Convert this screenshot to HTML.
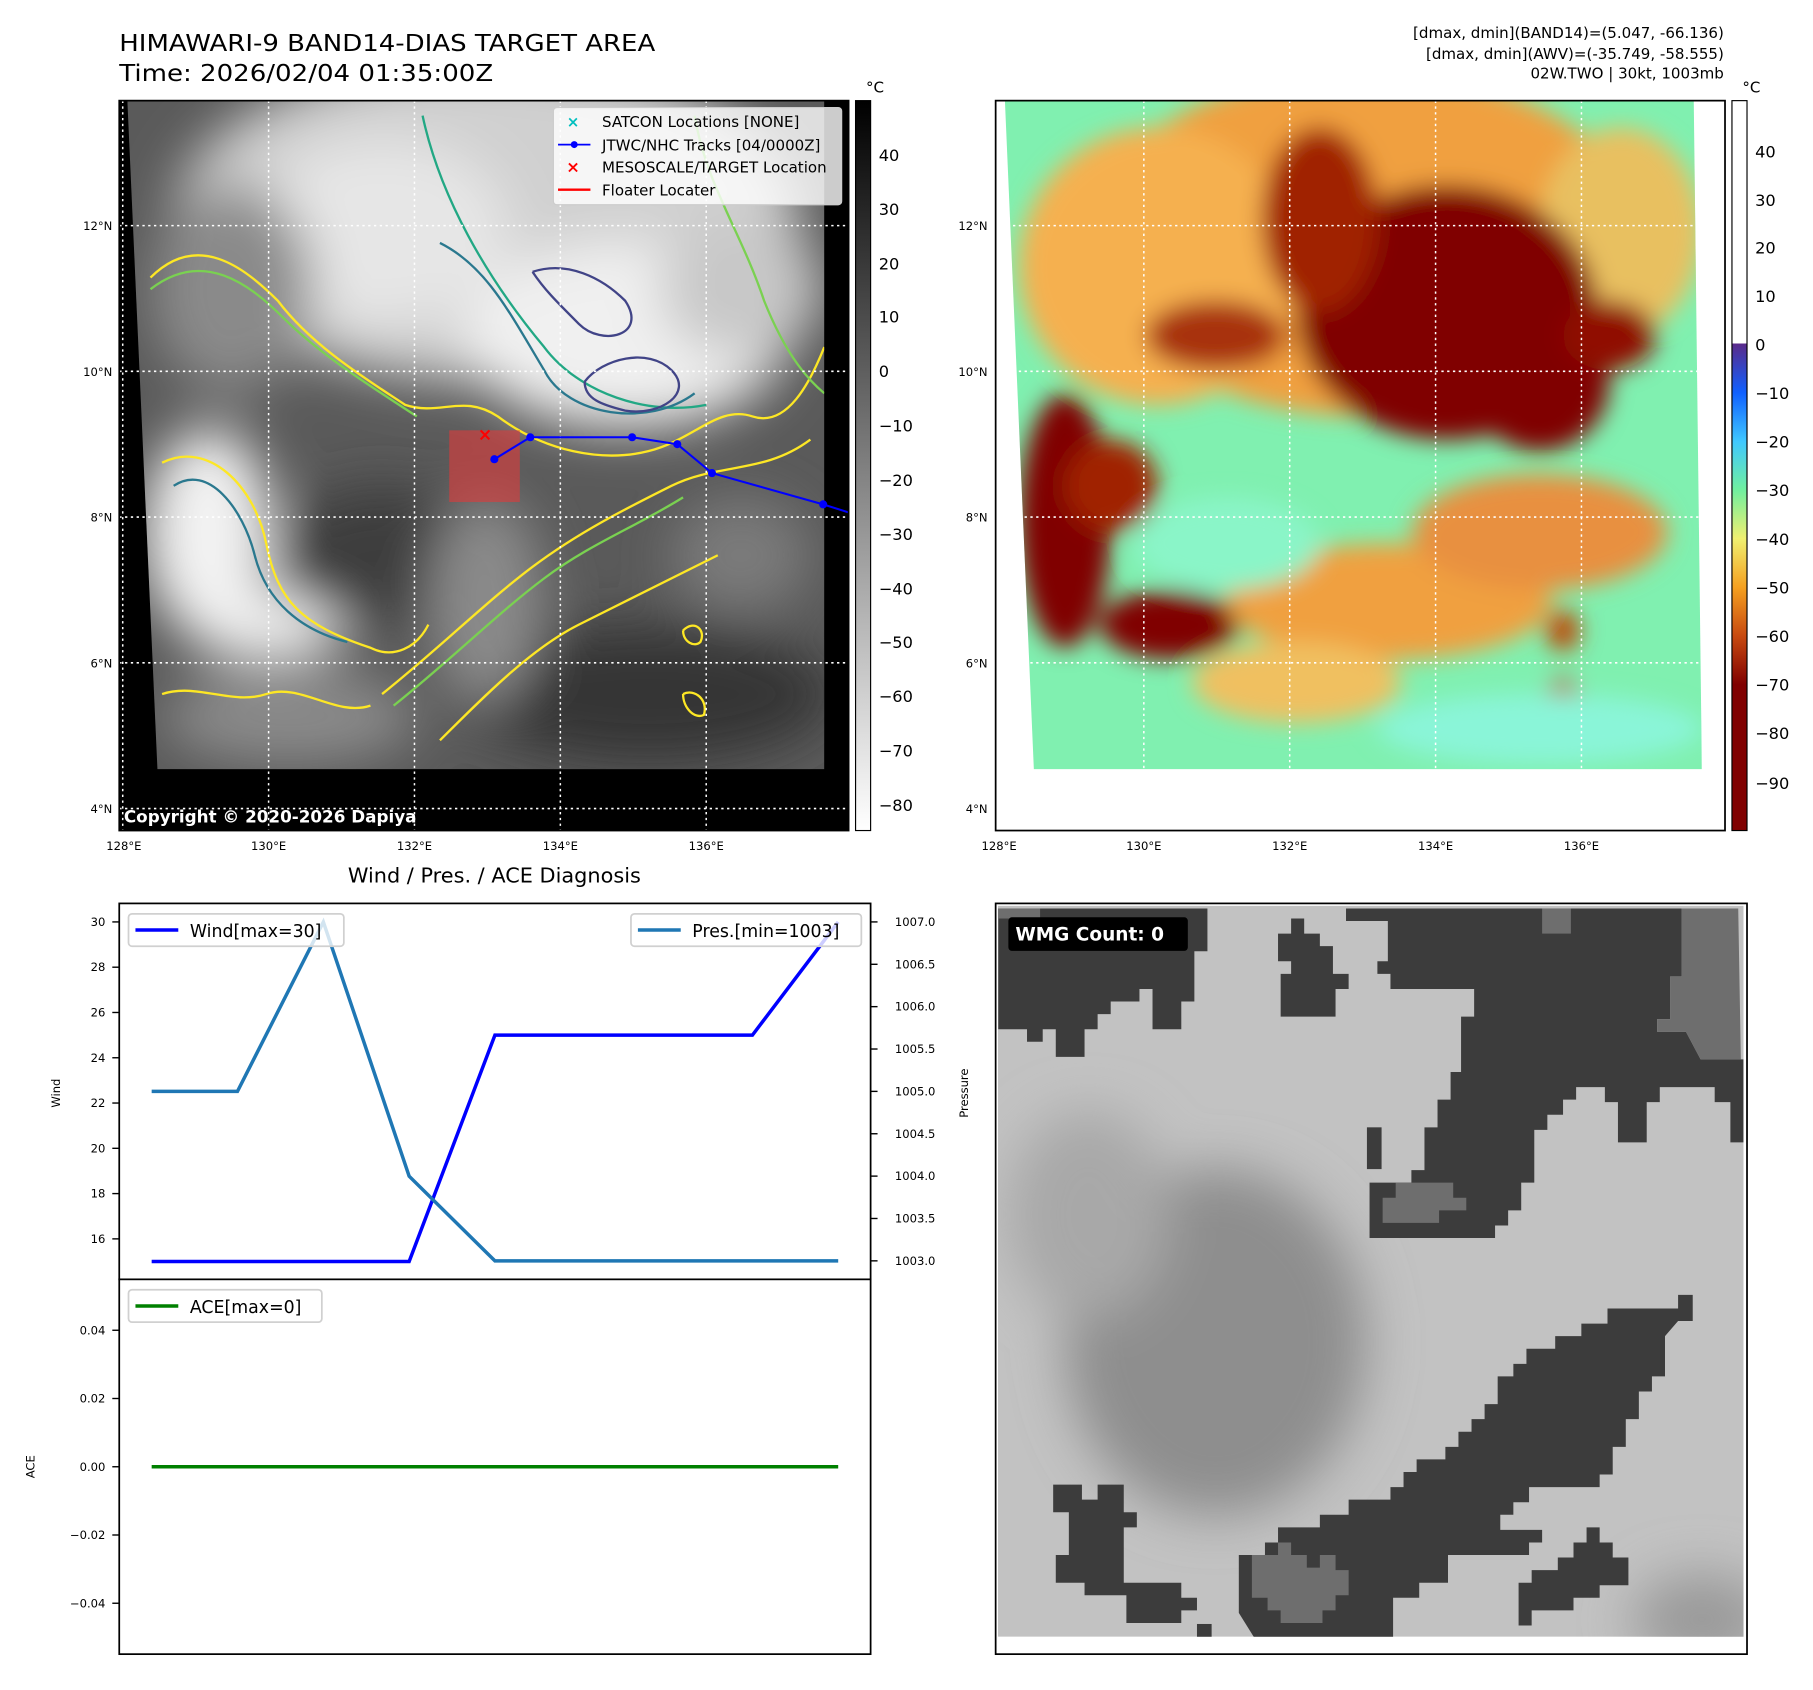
<!DOCTYPE html>
<html><head><meta charset="utf-8"><title>HIMAWARI-9 BAND14 DIAS</title>
<style>html,body{margin:0;padding:0;background:#fff}svg{display:block}text{font-family:"DejaVu Sans","Liberation Sans",sans-serif}</style>
</head><body>
<svg id="fig" width="1813" height="1690" viewBox="0 0 1566 1461" preserveAspectRatio="none" xmlns="http://www.w3.org/2000/svg">
<defs>
<filter id="b12" x="-50%" y="-50%" width="200%" height="200%"><feGaussianBlur stdDeviation="10"/></filter>
<filter id="b25" x="-50%" y="-50%" width="200%" height="200%"><feGaussianBlur stdDeviation="22"/></filter>
<linearGradient id="gcb" x1="0" y1="0" x2="0" y2="1"><stop offset="0" stop-color="#000"/><stop offset="1" stop-color="#fff"/></linearGradient>
<linearGradient id="ccb" x1="0" y1="0" x2="0" y2="1">
<stop offset="0" stop-color="#fff"/><stop offset="0.333" stop-color="#fff"/><stop offset="0.333" stop-color="#5a2a8a"/>
<stop offset="0.4" stop-color="#1060ff"/><stop offset="0.467" stop-color="#40c8ff"/><stop offset="0.533" stop-color="#70f0a0"/>
<stop offset="0.6" stop-color="#f0f070"/><stop offset="0.667" stop-color="#f5a020"/><stop offset="0.733" stop-color="#c84a10"/>
<stop offset="0.8" stop-color="#800000"/><stop offset="1" stop-color="#800000"/></linearGradient>
<clipPath id="clipL"><polygon points="110,87 712,87 712,665 136,665"/></clipPath>
<clipPath id="clipR"><polygon points="868,87 1463,87 1470,665 893,665"/></clipPath>
<clipPath id="clipW"><rect x="862" y="783" width="644" height="632"/></clipPath>
</defs>

<text x="103" y="44" font-size="20" textLength="463" lengthAdjust="spacingAndGlyphs">HIMAWARI-9 BAND14-DIAS TARGET AREA</text>
<text x="103" y="70" font-size="20" textLength="323" lengthAdjust="spacingAndGlyphs">Time: 2026/02/04 01:35:00Z</text>
<g font-size="13" text-anchor="end">
<text x="1489" y="33">[dmax, dmin](BAND14)=(5.047, -66.136)</text>
<text x="1489" y="51">[dmax, dmin](AWV)=(-35.749, -58.555)</text>
<text x="1489" y="68">02W.TWO | 30kt, 1003mb</text>
</g>

<g>
<rect x="103" y="87" width="630" height="631" fill="#000"/>
<g clip-path="url(#clipL)">
<rect x="100" y="80" width="620" height="600" fill="#5a5a5a"/>
<g filter="url(#b25)">
<ellipse cx="420" cy="190" rx="270" ry="140" fill="#d0d0d0"/>
<ellipse cx="540" cy="290" rx="140" ry="80" fill="#f0f0f0"/>
<ellipse cx="330" cy="200" rx="110" ry="80" fill="#e6e6e6"/>
<ellipse cx="180" cy="460" rx="55" ry="90" fill="#f2f2f2"/>
<ellipse cx="230" cy="540" rx="70" ry="30" fill="#f2f2f2"/>
<ellipse cx="640" cy="250" rx="70" ry="60" fill="#c8c8c8"/>
<ellipse cx="200" cy="250" rx="70" ry="90" fill="#8a8a8a"/>
<ellipse cx="330" cy="480" rx="90" ry="60" fill="#3e3e3e"/>
<ellipse cx="560" cy="600" rx="160" ry="60" fill="#363636"/>
<ellipse cx="640" cy="480" rx="60" ry="50" fill="#7a7a7a"/>
<ellipse cx="250" cy="620" rx="110" ry="40" fill="#8a8a8a"/>
<ellipse cx="420" cy="520" rx="50" ry="90" fill="#8a8a8a"/>
</g>
<g fill="none" stroke-width="2">
<path d="M130,240 C170,200 210,230 240,260 C270,300 320,330 350,350 C380,360 400,340 430,360 C470,390 520,400 560,390 C600,380 620,350 650,360 C680,370 700,330 712,300" stroke="#fde725"/>
<path d="M130,250 C175,215 215,245 245,275 C280,310 330,340 360,360" stroke="#7ad151"/>
<path d="M365,100 C380,170 420,240 470,300 C500,340 560,360 610,350" stroke="#22a884"/>
<path d="M380,210 C420,230 440,270 470,320 C490,360 560,370 600,340" stroke="#2a788e"/>
<path d="M460,235 C490,225 520,240 540,260 C560,290 520,300 500,280 C480,260 470,250 460,235" stroke="#414487"/>
<path d="M505,330 C520,310 560,300 580,320 C600,340 570,360 540,355 C520,350 505,345 505,330" stroke="#414487"/>
<path d="M140,400 C180,380 220,420 230,470 C240,520 260,540 320,560 C340,570 360,560 370,540" stroke="#fde725"/>
<path d="M150,420 C180,400 210,440 220,480 C230,520 260,545 300,555" stroke="#2a788e"/>
<path d="M330,600 C380,560 420,520 460,490 C500,460 540,440 580,420 C620,400 660,410 700,380" stroke="#fde725"/>
<path d="M340,610 C390,570 430,530 470,500 C510,470 550,455 590,430" stroke="#7ad151"/>
<path d="M380,640 C420,600 460,560 500,540 C540,520 580,500 620,480" stroke="#fde725"/>
<path d="M140,600 C170,590 200,610 230,600 C260,590 290,620 320,610" stroke="#fde725"/>
<path d="M590,545 C600,535 610,545 605,555 C600,560 590,555 590,545" stroke="#fde725"/>
<path d="M590,600 C600,595 612,605 608,618 C600,622 590,612 590,600" stroke="#fde725"/>
<path d="M600,100 C610,160 640,200 660,260 C680,310 700,330 712,340" stroke="#7ad151"/>
</g>
</g>
<g stroke="#fff" stroke-width="1.3" stroke-dasharray="2,3">
<line x1="106" y1="87" x2="106" y2="718"/><line x1="232" y1="87" x2="232" y2="718"/><line x1="358" y1="87" x2="358" y2="718"/><line x1="484" y1="87" x2="484" y2="718"/><line x1="610" y1="87" x2="610" y2="718"/>
<line x1="103" y1="195" x2="733" y2="195"/><line x1="103" y1="321" x2="733" y2="321"/><line x1="103" y1="447" x2="733" y2="447"/><line x1="103" y1="573" x2="733" y2="573"/><line x1="103" y1="699" x2="733" y2="699"/>
</g>
<rect x="388" y="372" width="61" height="62" fill="rgba(220,60,60,0.62)"/>
<polyline points="427,397 458,378 546,378 585,384 615,409 711,436 733,443" fill="none" stroke="#0000ff" stroke-width="1.8"/>
<g fill="#0000ff"><circle cx="427" cy="397" r="3.5"/><circle cx="458" cy="378" r="3.5"/><circle cx="546" cy="378" r="3.5"/><circle cx="585" cy="384" r="3.5"/><circle cx="615" cy="409" r="3.5"/><circle cx="711" cy="436" r="3.5"/></g>
<text x="419" y="381" font-size="15" font-weight="bold" fill="#f00" text-anchor="middle">×</text>
<g>
<rect x="478" y="93" width="249" height="84" rx="3" fill="rgba(255,255,255,0.8)" stroke="#ccc"/>
<text x="495" y="110" font-size="13" fill="#00bfbf" text-anchor="middle" font-weight="bold">×</text>
<line x1="482" y1="125" x2="510" y2="125" stroke="#00f" stroke-width="1.5"/><circle cx="496" cy="125" r="3" fill="#00f"/>
<text x="495" y="149" font-size="14" fill="#f00" text-anchor="middle" font-weight="bold">×</text>
<line x1="482" y1="164" x2="510" y2="164" stroke="#f00" stroke-width="2"/>
<g font-size="13"><text x="520" y="110">SATCON Locations [NONE]</text><text x="520" y="130">JTWC/NHC Tracks [04/0000Z]</text><text x="520" y="149">MESOSCALE/TARGET Location</text><text x="520" y="169">Floater Locater</text></g>
</g>
<text x="107" y="711" font-size="14.5" font-weight="bold" fill="#fff">Copyright © 2020-2026 Dapiya</text>
<rect x="103" y="87" width="630" height="631" fill="none" stroke="#000" stroke-width="1.5"/>
<g font-size="10" text-anchor="end"><text x="97" y="199">12°N</text><text x="97" y="325">10°N</text><text x="97" y="451">8°N</text><text x="97" y="577">6°N</text><text x="97" y="703">4°N</text></g>
<g font-size="10" text-anchor="middle"><text x="107" y="735">128°E</text><text x="232" y="735">130°E</text><text x="358" y="735">132°E</text><text x="484" y="735">134°E</text><text x="610" y="735">136°E</text></g>
<rect x="739" y="87" width="13" height="631" fill="url(#gcb)" stroke="#000" stroke-width="1"/>
<text x="748" y="80" font-size="13">°C</text>
<g font-size="14"><text x="759" y="139">40</text><text x="759" y="186">30</text><text x="759" y="233">20</text><text x="759" y="279">10</text><text x="759" y="326">0</text><text x="759" y="373">−10</text><text x="759" y="420">−20</text><text x="759" y="467">−30</text><text x="759" y="514">−40</text><text x="759" y="560">−50</text><text x="759" y="607">−60</text><text x="759" y="654">−70</text><text x="759" y="701">−80</text></g>
</g>

<g>
<rect x="860" y="87" width="630" height="631" fill="#fff"/>
<g clip-path="url(#clipR)">
<rect x="860" y="80" width="620" height="600" fill="#80f0b0"/>
<g filter="url(#b12)">
<ellipse cx="1180" cy="210" rx="240" ry="150" fill="#f0a040"/>
<ellipse cx="1000" cy="230" rx="120" ry="120" fill="#f5b050"/>
<ellipse cx="1400" cy="200" rx="70" ry="90" fill="#e8c060"/>
<ellipse cx="1250" cy="270" rx="130" ry="110" fill="#800000"/>
<ellipse cx="1140" cy="190" rx="50" ry="80" fill="#a02000"/>
<ellipse cx="1050" cy="290" rx="60" ry="30" fill="#a83010"/>
<ellipse cx="1330" cy="330" rx="60" ry="60" fill="#800000"/>
<ellipse cx="1390" cy="290" rx="40" ry="30" fill="#901000"/>
<ellipse cx="920" cy="450" rx="40" ry="110" fill="#800000"/>
<ellipse cx="1010" cy="540" rx="60" ry="30" fill="#800000"/>
<ellipse cx="960" cy="420" rx="40" ry="40" fill="#a02000"/>
<ellipse cx="1200" cy="520" rx="140" ry="50" fill="#f0a040"/>
<ellipse cx="1330" cy="460" rx="110" ry="50" fill="#e89040"/>
<ellipse cx="1120" cy="590" rx="90" ry="35" fill="#f0c060"/>
<ellipse cx="1350" cy="545" rx="14" ry="18" fill="#c04000"/>
<ellipse cx="1350" cy="605" rx="14" ry="18" fill="#c04000"/>
<ellipse cx="1060" cy="470" rx="80" ry="40" fill="#8af5c8"/>
<ellipse cx="1330" cy="630" rx="140" ry="30" fill="#8af5d8"/>
</g>
</g>
<g stroke="#fff" stroke-width="1.3" stroke-dasharray="2,3">
<line x1="863" y1="87" x2="863" y2="718"/><line x1="988" y1="87" x2="988" y2="718"/><line x1="1114" y1="87" x2="1114" y2="718"/><line x1="1240" y1="87" x2="1240" y2="718"/><line x1="1366" y1="87" x2="1366" y2="718"/>
<line x1="860" y1="195" x2="1490" y2="195"/><line x1="860" y1="321" x2="1490" y2="321"/><line x1="860" y1="447" x2="1490" y2="447"/><line x1="860" y1="573" x2="1490" y2="573"/><line x1="860" y1="699" x2="1490" y2="699"/>
</g>
<rect x="860" y="87" width="630" height="631" fill="none" stroke="#000" stroke-width="1.5"/>
<g font-size="10" text-anchor="end"><text x="853" y="199">12°N</text><text x="853" y="325">10°N</text><text x="853" y="451">8°N</text><text x="853" y="577">6°N</text><text x="853" y="703">4°N</text></g>
<g font-size="10" text-anchor="middle"><text x="863" y="735">128°E</text><text x="988" y="735">130°E</text><text x="1114" y="735">132°E</text><text x="1240" y="735">134°E</text><text x="1366" y="735">136°E</text></g>
<rect x="1496" y="87" width="13" height="631" fill="url(#ccb)" stroke="#000" stroke-width="1"/>
<text x="1505" y="80" font-size="13">°C</text>
<g font-size="14"><text x="1516" y="136">40</text><text x="1516" y="178">30</text><text x="1516" y="219">20</text><text x="1516" y="261">10</text><text x="1516" y="303">0</text><text x="1516" y="345">−10</text><text x="1516" y="387">−20</text><text x="1516" y="429">−30</text><text x="1516" y="471">−40</text><text x="1516" y="513">−50</text><text x="1516" y="555">−60</text><text x="1516" y="597">−70</text><text x="1516" y="639">−80</text><text x="1516" y="682">−90</text></g>
</g>

<g>
<g clip-path="url(#clipW)">
<rect x="862" y="783" width="644" height="632" fill="#c2c2c2"/>
<g filter="url(#b25)"><ellipse cx="1050" cy="1160" rx="130" ry="150" fill="#8e8e8e"/><ellipse cx="940" cy="1050" rx="70" ry="90" fill="#a8a8a8"/><ellipse cx="1470" cy="1400" rx="60" ry="40" fill="#9a9a9a"/></g>
<g transform="translate(860,781) scale(0.4517,0.435)">
<g fill="#3c3c3c">
<polygon points="5,10 405,10 405,95 380,95 380,195 355,195 355,250 300,250 300,170 275,170 275,195 220,195 220,220 195,220 195,250 170,250 170,305 115,305 115,250 90,250 90,275 60,275 60,250 5,250"/>
<polygon points="565,30 590,30 590,60 620,60 620,85 645,85 645,140 675,140 675,170 650,170 650,225 545,225 545,140 565,140 565,115 540,115 540,60 565,60"/>
<polygon points="670,10 1312,10 1312,145 1290,145 1290,230 1265,230 1265,255 1320,255 1348,310 1430,310 1430,475 1405,475 1405,395 1375,395 1375,365 1270,365 1270,395 1245,395 1245,475 1190,475 1190,395 1165,395 1165,365 1110,365 1110,390 1085,390 1085,420 1055,420 1055,450 1030,450 1030,555 1005,555 1005,610 980,610 980,640 955,640 955,665 715,665 715,555 795,555 795,530 820,530 820,445 845,445 845,390 870,390 870,335 890,335 890,225 915,225 915,170 755,170 755,140 730,140 730,115 750,115 750,35 670,35"/>
<rect x="710" y="445" width="28" height="83"/>
<polygon points="1305,778 1333,778 1333,830 1305,830 1280,860 1280,940 1255,940 1255,970 1230,970 1230,1025 1205,1025 1205,1080 1180,1080 1180,1135 1155,1135 1155,1160 1020,1160 1020,1190 990,1190 990,1215 965,1215 965,1245 1045,1245 1045,1270 1020,1270 1020,1295 865,1295 865,1350 810,1350 810,1380 760,1380 760,1460 495,1460 465,1410 465,1295 515,1295 515,1270 540,1270 540,1240 620,1240 620,1215 675,1215 675,1185 755,1185 755,1160 780,1160 780,1130 805,1130 805,1105 860,1105 860,1080 885,1080 885,1050 910,1050 910,1025 935,1025 935,995 960,995 960,940 990,940 990,915 1015,915 1015,885 1070,885 1070,860 1120,860 1120,835 1170,835 1170,805 1305,805"/>
<polygon points="1130,1240 1155,1240 1155,1270 1180,1270 1180,1300 1210,1300 1210,1355 1155,1355 1155,1380 1105,1380 1105,1405 1025,1405 1025,1435 1000,1435 1000,1350 1025,1350 1025,1325 1075,1325 1075,1300 1105,1300 1105,1270 1130,1270"/>
<polygon points="110,1155 165,1155 165,1185 195,1185 195,1155 245,1155 245,1210 270,1210 270,1240 245,1240 245,1350 355,1350 355,1380 385,1380 385,1405 355,1405 355,1430 250,1430 250,1375 170,1375 170,1350 115,1350 115,1295 140,1295 140,1210 110,1210"/>
<rect x="385" y="1432" width="28" height="28"/>
</g>
<g fill="#6e6e6e">
<polygon points="1312,10 1420,10 1425,310 1348,310 1320,255 1265,255 1265,230 1290,230 1290,145 1312,145"/>
<rect x="1045" y="10" width="55" height="50"/>
<polygon points="765,555 875,555 875,585 900,585 900,610 848,610 848,635 740,635 740,585 765,585"/>
<polygon points="540,1270 565,1270 565,1295 595,1295 595,1320 620,1320 620,1295 650,1295 650,1325 675,1325 675,1375 650,1375 650,1405 625,1405 625,1430 545,1430 545,1405 520,1405 520,1380 490,1380 490,1295 540,1295"/>
<rect x="0" y="10" width="85" height="20"/>
</g>
<rect x="0" y="1462" width="1440" height="40" fill="#fff"/>
</g>
</g>
<rect x="860" y="781" width="649" height="649" fill="none" stroke="#000" stroke-width="1.5"/>
<rect x="871" y="793" width="155" height="29" rx="3" fill="#000"/>
<text x="877" y="813" font-size="16" font-weight="bold" fill="#fff">WMG Count: 0</text>
</g>

<text x="427" y="763" font-size="18" text-anchor="middle">Wind / Pres. / ACE Diagnosis</text>
<g id="chart"></g>
</svg>
<script>
const windVals = [15, 15, 15, 15, 25, 25, 25, 25, 30];
const presVals = [1005, 1005, 1007, 1004, 1003, 1003, 1003, 1003, 1003];
const aceVals = [0, 0, 0, 0, 0, 0, 0, 0, 0];
const windTicks = [16, 18, 20, 22, 24, 26, 28, 30];
const presTicks = [1003.0, 1003.5, 1004.0, 1004.5, 1005.0, 1005.5, 1006.0, 1006.5, 1007.0];
const aceTicks = [-0.04, -0.02, 0.00, 0.02, 0.04];

const NS = 'http://www.w3.org/2000/svg';
const chart = document.getElementById('chart');
function mk(tag, attrs, parent) {
  const e = document.createElementNS(NS, tag);
  for (const k in attrs) e.setAttribute(k, attrs[k]);
  (parent || chart).appendChild(e);
  return e;
}
const X0 = 131, X1 = 724;
function xPos(i, n) { return X0 + (X1 - X0) * i / (n - 1); }
function yWind(v) { return 797 + (30 - v) * (1071 - 797) / 14; }
function yPres(v) { return 797 + (1007 - v) * (1090 - 797) / 4; }
function yAce(v) { return 1268 - v * (1268 - 1150) / 0.04; }
function fmtMinus(s) { return s.replace('-', '\u2212'); }

const f1 = mk('rect', {x: 103, y: 781, width: 649, height: 325, fill: '#fff', stroke: '#000', 'stroke-width': 1.5});


const f2 = mk('rect', {x: 103, y: 1106, width: 649, height: 324, fill: '#fff', stroke: '#000', 'stroke-width': 1.5});



windTicks.forEach(v => {
  const y = yWind(v);
  mk('line', {x1: 97, y1: y, x2: 103, y2: y, stroke: '#000', 'stroke-width': 1.2});
  const t = mk('text', {x: 91, y: y + 3.5, 'font-size': 10, 'text-anchor': 'end'});
  t.textContent = String(v);
  
  
});
presTicks.forEach(v => {
  const y = yPres(v);
  mk('line', {x1: 752, y1: y, x2: 758, y2: y, stroke: '#000', 'stroke-width': 1.2});
  const t = mk('text', {x: 773, y: y + 3.5, 'font-size': 10});
  t.textContent = v.toFixed(1);
  
  
});
aceTicks.forEach(v => {
  const y = yAce(v);
  mk('line', {x1: 97, y1: y, x2: 103, y2: y, stroke: '#000', 'stroke-width': 1.2});
  const t = mk('text', {x: 91, y: y + 3.5, 'font-size': 10, 'text-anchor': 'end'});
  t.textContent = fmtMinus(v.toFixed(2));
  
  
});
const yl1 = mk('text', {x: 52, y: 945, 'font-size': 10, 'text-anchor': 'middle', transform: 'rotate(-90 52 945)'});
yl1.textContent = 'Wind';


const yl2 = mk('text', {x: 836, y: 945, 'font-size': 10, 'text-anchor': 'middle', transform: 'rotate(-90 836 945)'});
yl2.textContent = 'Pressure';


const yl3 = mk('text', {x: 30, y: 1268, 'font-size': 10, 'text-anchor': 'middle', transform: 'rotate(-90 30 1268)'});
yl3.textContent = 'ACE';



function line(vals, yf, color, name) {
  const pts = vals.map((v, i) => xPos(i, vals.length).toFixed(1) + ',' + yf(v).toFixed(1)).join(' ');
  const p = mk('polyline', {points: pts, fill: 'none', stroke: color, 'stroke-width': 3, 'stroke-linejoin': 'miter'});
  
  
}
line(windVals, yWind, '#0000ff', 'wind-line');
line(presVals, yPres, '#1f77b4', 'pressure-line');
line(aceVals, yAce, '#008000', 'ace-line');

function legend(x, y, w, color, label, name) {
  const g = mk('g', {});
  
  
  mk('rect', {x: x, y: y, width: w, height: 28, rx: 3, fill: 'rgba(255,255,255,0.8)', stroke: '#d0d0d0', 'stroke-width': 1.5}, g);
  mk('line', {x1: x + 6, y1: y + 14, x2: x + 43, y2: y + 14, stroke: color, 'stroke-width': 3}, g);
  const t = mk('text', {x: x + 53, y: y + 20, 'font-size': 15}, g);
  t.textContent = label;
}
legend(111, 790, 186, '#0000ff', 'Wind[max=' + Math.max(...windVals) + ']', 'wind-legend');
legend(545, 790, 199, '#1f77b4', 'Pres.[min=' + Math.min(...presVals) + ']', 'pressure-legend');
legend(111, 1115, 167, '#008000', 'ACE[max=' + Math.max(...aceVals) + ']', 'ace-legend');
</script>
</body></html>
